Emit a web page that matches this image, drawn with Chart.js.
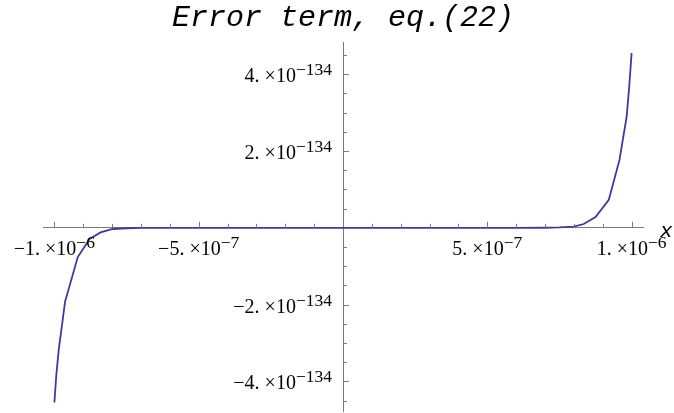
<!DOCTYPE html>
<html>
<head>
<meta charset="utf-8">
<script src="https://cdn.jsdelivr.net/npm/chart.js@4.4.1/dist/chart.umd.min.js"></script>
<style>
  html, body { margin: 0; padding: 0; background: #fff; }
  #wrap { width: 674px; height: 413px; }
</style>
</head>
<body>
<div id="wrap"><canvas id="errChart"></canvas></div>
<script>
// x in units of 10^-6, error term in units of 10^-134
const xVals = [-1.0, -0.993, -0.985, -0.963, -0.919, -0.878, -0.84, -0.798, -0.75, -0.7,
  -0.6, -0.5, -0.4, -0.3, -0.2, -0.1, 0, 0.1, 0.2, 0.3, 0.4, 0.5, 0.6,
  0.7, 0.75, 0.8, 0.834, 0.875, 0.921, 0.958, 0.983, 0.992, 1.0];
const errVals = [-4.55, -3.8, -3.18, -1.92, -0.76, -0.29, -0.12, -0.03, -0.01, -0.003,
  0, 0, 0, 0, 0, 0, 0, 0, 0, 0, 0, 0, 0,
  0.003, 0.01, 0.03, 0.1, 0.28, 0.73, 1.77, 2.9, 3.7, 4.55];

// tick labels: [mantissa part, exponent]
const xMajor = [-1, -0.5, 0.5, 1];
const xLabels = [['\u22121. \u00d710', '\u22126'], ['\u22125. \u00d710', '\u22127'],
                 ['5. \u00d710', '\u22127'], ['1. \u00d710', '\u22126']];
const yMajor = [-4, -2, 2, 4];
const yLabels = [['\u22124. \u00d710', '\u2212134'], ['\u22122. \u00d710', '\u2212134'],
                 ['2. \u00d710', '\u2212134'], ['4. \u00d710', '\u2212134']];

const axisColor = '#7a7a7a';
const curveColor = '#3b3b9e';

function richLabel(ctx, main, sup, xPos, yBase, align) {
    ctx.font = '20px "Liberation Serif"';
    const wm = ctx.measureText(main).width;
    ctx.font = '17.5px "Liberation Serif"';
    const ws = ctx.measureText(sup).width;
    const left = align === 'right' ? xPos - wm - ws : xPos - (wm + ws) / 2;
    ctx.textAlign = 'left';
    ctx.textBaseline = 'alphabetic';
    ctx.font = '20px "Liberation Serif"';
    ctx.fillText(main, left, yBase);
    ctx.font = '17.5px "Liberation Serif"';
    ctx.fillText(sup, left + wm, yBase - 7);
}

// Mathematica-like ticks (on the opposite side of the labels) and labels
const axisDeco = {
    id: 'axisDeco',
    afterDraw(chart) {
        const { ctx, scales: { x, y } } = chart;
        const x0 = x.getPixelForValue(0);
        const y0 = y.getPixelForValue(0);
        ctx.save();
        ctx.strokeStyle = axisColor;
        ctx.lineWidth = 1;
        ctx.beginPath();
        for (let k = -10; k <= 10; k++) {
            if (k === 0) continue;
            const px = Math.round(x.getPixelForValue(k / 10)) + 0.5;
            const len = k % 5 === 0 ? 6 : 4;
            ctx.moveTo(px, y0);
            ctx.lineTo(px, y0 - len);
        }
        for (let k = -9; k <= 9; k++) {
            if (k === 0) continue;
            const py = Math.round(y.getPixelForValue(k / 2)) + 0.5;
            const len = k % 4 === 0 ? 6 : 4;
            ctx.moveTo(x0, py);
            ctx.lineTo(x0 + len, py);
        }
        ctx.stroke();

        ctx.fillStyle = '#000';
        xMajor.forEach((v, i) => {
            richLabel(ctx, xLabels[i][0], xLabels[i][1], x.getPixelForValue(v), y0 + 27, 'center');
        });
        yMajor.forEach((v, i) => {
            richLabel(ctx, yLabels[i][0], yLabels[i][1], x0 - 11, y.getPixelForValue(v) + 8, 'right');
        });

        ctx.font = 'italic 21px "Liberation Mono"';
        ctx.textAlign = 'left';
        ctx.fillText('x', 660, y0 + 9);
        ctx.restore();
    }
};

const ctx = document.getElementById('errChart');
new Chart(ctx, {
    type: 'line',
    data: {
        datasets: [{
            data: xVals.map((v, i) => ({ x: v, y: errVals[i] })),
            borderColor: curveColor,
            borderWidth: 1.8,
            pointRadius: 0,
            tension: 0,
            fill: false
        }]
    },
    options: {
        responsive: true,
        maintainAspectRatio: false,
        animation: false,
        layout: {
            padding: { left: 43, right: 31, top: 0, bottom: 2 }
        },
        plugins: {
            legend: { display: false },
            tooltip: { enabled: false },
            title: {
                display: true,
                text: 'Error term, eq.(22)',
                color: '#000',
                font: { family: 'Liberation Mono', style: 'italic', weight: 'normal', size: 30, lineHeight: 1.2 },
                padding: { top: 0, bottom: 6 }
            }
        },
        scales: {
            x: {
                type: 'linear',
                min: -1.0395,
                max: 1.0395,
                position: { y: 0 },
                grid: { display: false },
                ticks: { display: false },
                border: { display: true, color: axisColor, width: 1 }
            },
            y: {
                type: 'linear',
                min: -4.77,
                max: 4.84,
                position: { x: 0 },
                grid: { display: false },
                ticks: { display: false },
                border: { display: true, color: axisColor, width: 1 }
            }
        }
    },
    plugins: [axisDeco]
});
</script>
</body>
</html>
